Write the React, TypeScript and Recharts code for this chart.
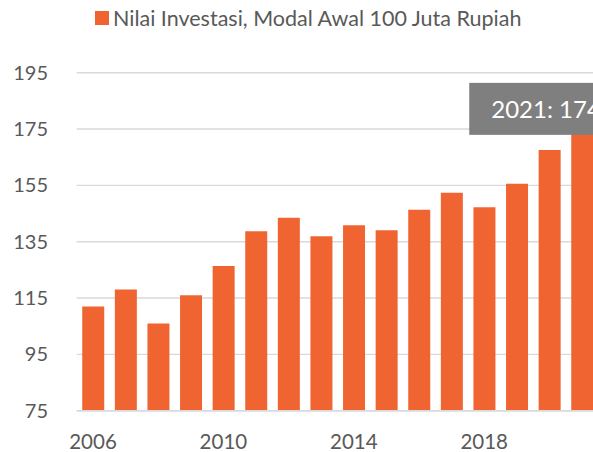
import {Bar, BarChart, CartesianGrid, LabelList, XAxis, YAxis} from 'recharts'

const years = ['2006', '2007', '2008', '2009', '2010', '2011', '2012', '2013', '2014', '2015', '2016', '2017', '2018', '2019', '2020', '2021']
const values = [112, 118, 106, 116, 126.4, 138.7, 143.5, 136.9, 140.8, 139.1, 146.3, 152.4, 147.2, 155.6, 167.6, 174]
const yTicks = [75, 95, 115, 135, 155, 175, 195]
const seriesName = 'Nilai Investasi, Modal Awal 100 Juta Rupiah'

const orange = '#f06432'
const textGray = '#595959'
const font = 'Lato, "Open Sans", sans-serif'

const data = years.map((year, i) => ({year, value: values[i]}))

// only the last bar carries the grey callout
function LastLabel(props: any) {
  const {x, y, width, index, value} = props
  if (index !== data.length - 1) return null
  const bx = x + width / 2 - 113
  const by = y - 49
  return (
    <g>
      <rect x={bx} y={by} width={240} height={52} fill="#7f7f7f" />
      <text x={bx + 22} y={by + 35.6} fill="#fff" fontSize={24} fontFamily={font}>
        {`${data[index].year}: ${value}`}
      </text>
    </g>
  )
}

export default function App() {
  return (
    <div style={{position: 'fixed', left: 0, top: 0, width: 593, height: 452, overflow: 'hidden', background: '#fff', fontFamily: font}}>
      <div style={{position: 'absolute', left: 95, top: 5, display: 'flex', alignItems: 'center', color: textGray, fontSize: 21.5, whiteSpace: 'nowrap'}}>
        <span style={{display: 'inline-block', width: 14, height: 14, background: orange, marginRight: 4}} />
        <span>{seriesName}</span>
      </div>
      <BarChart width={610} height={452} data={data} margin={{top: 72.7, right: 11.7, bottom: 0, left: 0}} barCategoryGap="17%">
        <CartesianGrid vertical={false} stroke="#d9d9d9" strokeWidth={1.4} />
        <XAxis
          dataKey="year"
          interval={3}
          height={41.3}
          tickSize={0}
          tickMargin={24}
          axisLine={{stroke: '#d9d9d9', strokeWidth: 1.4}}
          tick={{fontSize: 20.5, fill: textGray, fontFamily: font}}
        />
        <YAxis
          domain={[75, 195]}
          ticks={yTicks}
          width={76.7}
          tickSize={0}
          tickMargin={28.7}
          axisLine={false}
          tick={{fontSize: 20, fill: textGray, fontFamily: font}}
        />
        <Bar dataKey="value" name={seriesName} fill={orange} isAnimationActive={false}>
          <LabelList dataKey="value" content={LastLabel} />
        </Bar>
      </BarChart>
    </div>
  )
}
